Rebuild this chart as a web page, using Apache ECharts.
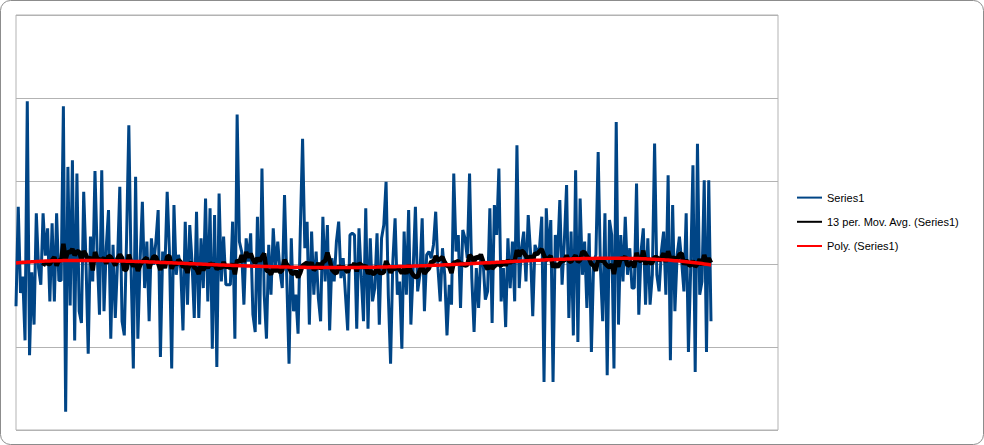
<!DOCTYPE html>
<html>
<head>
<meta charset="utf-8">
<script src="https://cdn.jsdelivr.net/npm/echarts@6/dist/echarts.min.js"></script>
<style>
  html, body { margin: 0; padding: 0; background: #ffffff; }
  #chart { width: 984px; height: 445px; }
</style>
</head>
<body>
<div id="chart"></div>
<script>
// ---- Data (values in axis units) ----
const seriesName = "Series1";
const maName = "13 per. Mov. Avg. (Series1)";
const polyName = "Poly. (Series1)";
const maPeriod = 13;
const polyOrder = 4;

const yMin = -2;
const yMax = 3;
const yStep = 1;

const values = [
  -0.51,0.69,-0.35,-0.15,-0.92,1.96,-1.1,-0.1,-0.73,0.61,-0.05,-0.25,0.61,0.1,0.43,-0.45,0.49,-0.45,0.61,-0.2,-0.2,1.9,-1.78,1.17,-0.5,1.25,-0.92,1.09,
  -0.57,-0.71,0.87,0.05,-1.08,0.33,-0.21,1.12,0.11,-0.61,1.13,-0.57,0.2,0.65,-0.9,0.23,-0.65,0.03,0.93,-0.69,-0.86,0.3,1.67,-0.05,-1.26,1.05,-0.9,
  0.03,0.75,-0.29,0.27,-0.69,0.31,-0.01,0.27,0.65,-1.12,0.15,-0.05,0.87,0.15,-1.26,0.71,-0.13,0.11,-0.05,-0.8,0.51,-0.49,0.47,0.03,-0.65,0.63,
  -0.65,0.31,-0.29,0.79,-0.45,0.67,-1.02,0.59,-1.24,0.85,-0.21,0.33,-0.25,-0.25,-0.25,0.51,-0.9,1.8,0.27,0.15,-0.49,0.31,0.03,0.37,-0.61,
  -0.82,0.57,-0.73,1.15,-0.37,-0.9,0.23,-0.37,0.43,-0.05,0.27,-0.09,-0.29,0.83,-0.17,-1.2,0.31,-0.57,-0.37,-0.84,0.4,1.51,0.19,0.51,-0.73,
  0.39,-0.37,0.15,-0.41,-0.69,0.57,-0.21,0.47,-0.8,0.07,-0.21,0.27,0.51,-0.17,0.07,-0.37,-0.8,0.35,0.37,0.35,-0.78,0.43,-0.15,-0.69,0.67,-0.78,
  0.31,-0.45,-0.29,0.37,-0.73,0.31,0.47,0.99,-0.37,-1.2,0.03,0.55,-0.37,-0.21,-1.02,0.39,-0.37,0.65,-0.73,-0.07,0.69,-0.33,-0.13,0.55,-0.57,
  0.11,0.15,0.07,0.23,0.63,-0.05,-0.45,0.19,-0.13,-0.86,-0.25,-0.49,1.09,0.15,0.35,-0.53,0.41,0.31,0.07,1.09,-0.17,-0.82,-0.05,-0.53,0.11,0.03,-0.43,
  -0.33,0.67,-0.71,0.71,0.35,1.15,-0.45,-0.05,-0.76,0.31,-0.29,0.27,-0.45,1.43,-0.29,0.19,0.39,-0.21,0.59,0.15,-0.63,0.23,0.15,0.19,0.57,-1.42,0.67,0.07,0.53,
  -1.42,0.35,0.07,0.77,-0.25,0.27,0.95,-0.65,0.39,-0.86,1.13,-0.94,0.79,-0.13,0.27,-0.53,0.37,-1.06,0.03,0.11,1.35,-0.05,-0.69,0.61,-1.34,0.53,0.35,-1.26,1.71,
  -0.73,0.35,-0.21,0.57,-0.13,0.19,-0.29,-0.29,0.97,-0.61,0.15,0.43,-0.49,0.31,-0.49,-0.13,1.45,-0.13,-0.33,0.15,0.39,-0.37,1.07,-1.16,0.71,-0.57,
  0.11,0.33,0.03,-0.33,0.61,-1.06,-0.05,1.19,-1.3,1.45,-0.37,-0.21,1.01,-1.06,1.01,-0.69
];

// ---- Derived series (as the spreadsheet trendlines compute them) ----
const N = values.length;
const idx = values.map((_, i) => i);

const seriesData = values.map((v, i) => [i, v]);

const maData = values.map((_, i) => {
  if (i < maPeriod - 1) return [i, null];
  let s = 0;
  for (let k = i - maPeriod + 1; k <= i; k++) s += values[k];
  return [i, s / maPeriod];
});

function polyFit(xs, ys, order) {
  const m = order + 1;
  const A = [];
  for (let r = 0; r < m; r++) { A.push(new Array(m + 1).fill(0)); }
  for (let p = 0; p < xs.length; p++) {
    const t = xs[p];
    const pw = [];
    for (let k = 0; k < 2 * m; k++) pw.push(Math.pow(t, k));
    for (let r = 0; r < m; r++) {
      for (let c = 0; c < m; c++) A[r][c] += pw[r + c];
      A[r][m] += pw[r] * ys[p];
    }
  }
  for (let c = 0; c < m; c++) {
    let piv = c;
    for (let r = c + 1; r < m; r++) if (Math.abs(A[r][c]) > Math.abs(A[piv][c])) piv = r;
    [A[c], A[piv]] = [A[piv], A[c]];
    for (let r = 0; r < m; r++) {
      if (r === c) continue;
      const f = A[r][c] / A[c][c];
      for (let k = c; k <= m; k++) A[r][k] -= f * A[c][k];
    }
  }
  return A.map((row, r) => row[m] / row[r]);
}
const tNorm = idx.map(i => i / (N - 1));
const coef = polyFit(tNorm, values, polyOrder);
const polyData = idx.map(i => {
  const t = i / (N - 1);
  let y = 0;
  for (let k = 0; k < coef.length; k++) y += coef[k] * Math.pow(t, k);
  return [i, y];
});

// plot area 16..778 px, data spans 16..711 px
const xMax = (N - 1) * 762 / 695;

const chart = echarts.init(document.getElementById('chart'), null, { renderer: 'svg' });
chart.setOption({
  animation: false,
  backgroundColor: '#ffffff',
  grid: {
    left: 16, top: 15, width: 762, height: 415,
    show: true, borderColor: '#b3b3b3', borderWidth: 1, backgroundColor: 'transparent'
  },
  xAxis: {
    type: 'value', min: 0, max: xMax,
    axisLine: { show: false }, axisTick: { show: false },
    axisLabel: { show: false }, splitLine: { show: false }
  },
  yAxis: {
    type: 'value', min: yMin, max: yMax, interval: yStep,
    axisLine: { show: false }, axisTick: { show: false },
    axisLabel: { show: false },
    splitLine: { show: true, lineStyle: { color: '#b3b3b3', width: 1 } }
  },
  legend: {
    orient: 'vertical',
    left: 791, top: 187,
    itemWidth: 25, itemHeight: 14, itemGap: 13,
    itemStyle: { opacity: 0 },
    textStyle: { fontFamily: 'Liberation Sans, Arial, sans-serif', fontSize: 11, color: '#000000' },
    data: [seriesName, maName, polyName]
  },
  graphic: [{
    type: 'rect', silent: true, z: -10,
    shape: { x: 0.5, y: 0.5, width: 983, height: 444, r: 10 },
    style: { fill: 'none', stroke: '#8c8c8c', lineWidth: 1 }
  }],
  series: [
    {
      name: seriesName, type: 'line', data: seriesData,
      symbol: 'none', smooth: false, z: 2,
      lineStyle: { color: '#004586', width: 3 }, itemStyle: { color: '#004586' }
    },
    {
      name: maName, type: 'line', data: maData,
      symbol: 'none', connectNulls: false, z: 3,
      lineStyle: { color: '#000000', width: 4.5 }, itemStyle: { color: '#000000' }
    },
    {
      name: polyName, type: 'line', data: polyData,
      symbol: 'none', z: 4,
      lineStyle: { color: '#ff0000', width: 3.5 }, itemStyle: { color: '#ff0000' }
    }
  ]
});
</script>
</body>
</html>
